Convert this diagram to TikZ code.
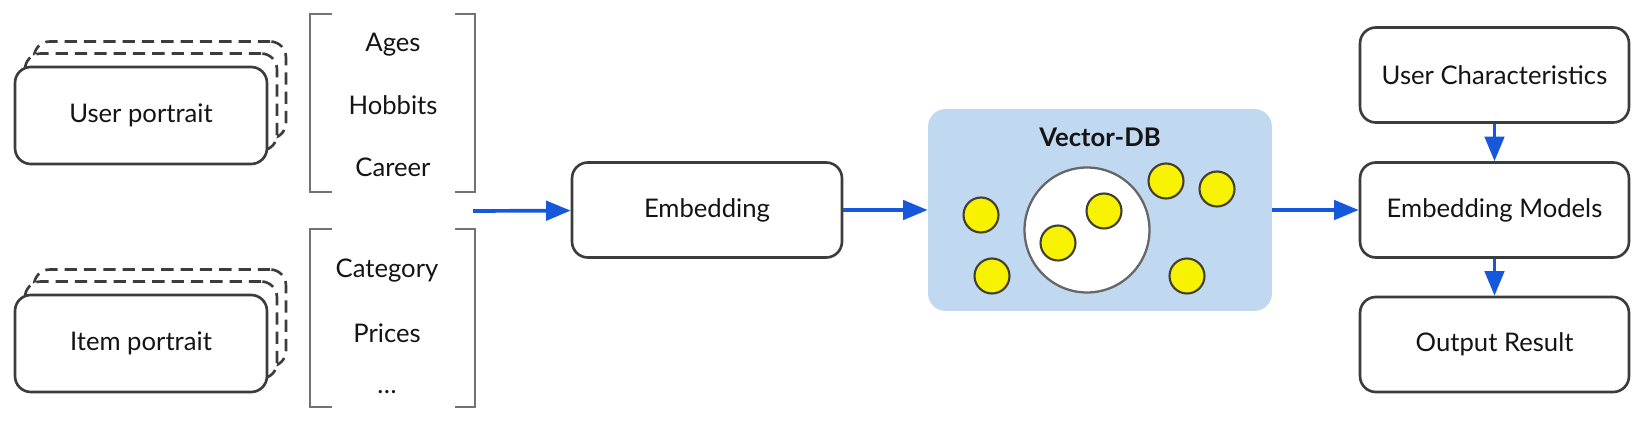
\documentclass[tikz,border=0pt]{standalone}
\usepackage{fontspec}
\setmainfont{Lato}
\usetikzlibrary{arrows.meta}
\definecolor{flowblue}{RGB}{22,88,220}
\definecolor{dbblue}{RGB}{192,216,240}
\definecolor{dotyellow}{RGB}{246,242,0}
\definecolor{edge}{RGB}{60,60,60}
\begin{document}
\begin{tikzpicture}[x=0.02cm,y=-0.02cm,every node/.style={font=\fontsize{14.6}{17}\selectfont,text=black!92},
 card/.style={draw=edge,line width=1.5pt,rounded corners=9pt,fill=white,minimum width=5.04cm,minimum height=1.94cm},
 ghost/.style={card,dashed,dash pattern=on 7pt off 4pt},
 box/.style={card,minimum width=#1,minimum height=1.9cm},
 brk/.style={draw=black!55,line width=1.3pt},
 item/.style={anchor=base},
 flow/.style={draw=flowblue,line width=2.1pt,-{Triangle[length=14pt,width=11pt]}},
 dot/.style={circle,draw=black!70!olive,fill=dotyellow,line width=1.2pt,minimum size=0.7cm,inner sep=0pt}]
 \useasboundingbox (0,0) rectangle (1643,429);
 % portraits
 \node[ghost] (up2) at (160,90) {};
 \node[ghost] (up1) at (151,102) {};
 \node[card] (up) at (141,115.5) {User portrait};
 \node[ghost] (ip2) at (160,318) {};
 \node[ghost] (ip1) at (151,330) {};
 \node[card] (ip) at (141,343.5) {Item portrait};
 % feature lists
 \draw[brk] (332,14) -- (310,14) -- (310,192) -- (332,192);
 \draw[brk] (455,14) -- (475,14) -- (475,192) -- (455,192);
 \node[item] (ages) at (393,52) {Ages};
 \node[item] (hobby) at (393,114) {Hobbits};
 \node[item] (career) at (393,176) {Career};
 \draw[brk] (332,229) -- (310,229) -- (310,407) -- (332,407);
 \draw[brk] (455,229) -- (475,229) -- (475,407) -- (455,407);
 \node[item] (cat) at (387,277) {Category};
 \node[item] (price) at (387,342) {Prices};
 \node[item] (more) at (387,393) {\dots};
 \coordinate (feat) at (473,211);
 % embedding and store
 \node[box=5.4cm] (emb) at (707,210) {Embedding};
 \node[fill=dbblue,rounded corners=10pt,minimum width=6.88cm,minimum height=4.04cm] (db) at (1100,210) {};
 \node[font=\fontsize{14.6}{17}\selectfont\bfseries] (dbt) at (1100,137) {Vector-DB};
 \node[circle,draw=black!60,fill=white,line width=1.3pt,minimum size=2.5cm] (near) at (1087,230) {};
 \foreach \x/\y [count=\i] in {981/215,992/276,1058/243,1104/211,1166/181,1217/189,1187/276}
  \node[dot] (v\i) at (\x,\y) {};
 % model side
 \node[box=5.38cm] (uc) at (1494.5,75) {User Characteristics};
 \node[box=5.38cm] (em) at (1494.5,210) {Embedding Models};
 \node[box=5.38cm] (out) at (1494.5,344.5) {Output Result};
 \draw[flow] (feat) -- (emb);
 \draw[flow] (emb) -- (db);
 \draw[flow] (db) -- (em);
 \draw[flow] (uc) -- (em);
 \draw[flow] (em) -- (out);
\end{tikzpicture}
\end{document}
